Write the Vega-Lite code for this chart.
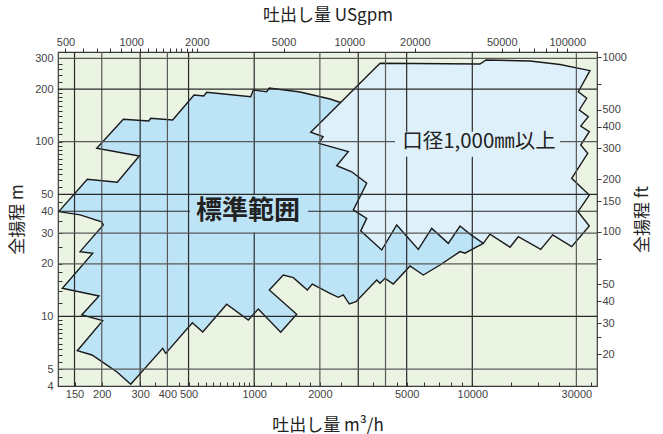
{
  "$schema": "https://vega.github.io/schema/vega-lite/v6.json",
  "width": 539,
  "height": 334,
  "autosize": {"type": "none"},
  "padding": {"left": 58, "top": 52, "right": 66, "bottom": 48},
  "background": "white",
  "config": {
    "view": {"fill": "#ebf3e2", "stroke": "#3a3a3a", "strokeWidth": 1.2},
    "axis": {"domain": false, "grid": false, "labelFont": "Liberation Sans", "labelFontSize": 11, "labelColor": "#444", "tickColor": "#333", "titleFont": "Noto Sans CJK JP", "titleFontSize": 17, "titleFontWeight": "normal", "titleColor": "#222", "labelOverlap": false, "labelFlush": false, "labelBound": false}
  },
  "datasets": {
    "standard": [
      {"i": 0, "q": 127, "h": 39.8}, {"i": 1, "q": 171.7, "h": 60.9}, {"i": 2, "q": 235.7, "h": 58.6}, {"i": 3, "q": 297.3, "h": 82.8},
      {"i": 4, "q": 189.6, "h": 91.7}, {"i": 5, "q": 251.1, "h": 134.4}, {"i": 6, "q": 328.3, "h": 131.4}, {"i": 7, "q": 335.3, "h": 136.1},
      {"i": 8, "q": 422.9, "h": 133.1}, {"i": 9, "q": 529.7, "h": 185.0}, {"i": 10, "q": 586.8, "h": 182.6}, {"i": 11, "q": 605.7, "h": 191.7},
      {"i": 12, "q": 963.8, "h": 180.9}, {"i": 13, "q": 990.6, "h": 197.6}, {"i": 14, "q": 1141, "h": 193.2}, {"i": 15, "q": 1173, "h": 202.9},
      {"i": 16, "q": 1622, "h": 192.4}, {"i": 17, "q": 2226, "h": 175.5}, {"i": 18, "q": 2608, "h": 164.3}, {"i": 19, "q": 5757, "h": 102.3},
      {"i": 20, "q": 10847, "h": 46.4}, {"i": 21, "q": 11230, "h": 26.2}, {"i": 22, "q": 9258, "h": 23.0}, {"i": 23, "q": 8783, "h": 23.5},
      {"i": 24, "q": 7109, "h": 19.7}, {"i": 25, "q": 5961, "h": 17.27}, {"i": 26, "q": 5180, "h": 19.44}, {"i": 27, "q": 4343, "h": 15.33},
      {"i": 28, "q": 3978, "h": 16.53}, {"i": 29, "q": 3774, "h": 15.48}, {"i": 30, "q": 3645, "h": 16.17}, {"i": 31, "q": 2929, "h": 12.15},
      {"i": 32, "q": 2729, "h": 11.78}, {"i": 33, "q": 2562, "h": 13.27}, {"i": 34, "q": 2430, "h": 12.87}, {"i": 35, "q": 2226, "h": 13.57},
      {"i": 36, "q": 1847, "h": 15.33}, {"i": 37, "q": 1752, "h": 14.17}, {"i": 38, "q": 1511, "h": 16.67}, {"i": 39, "q": 1359, "h": 17.27},
      {"i": 40, "q": 1173, "h": 14.17}, {"i": 41, "q": 1566, "h": 10.29}, {"i": 42, "q": 1323, "h": 8.12}, {"i": 43, "q": 1044, "h": 11.03},
      {"i": 44, "q": 939.5, "h": 9.54}, {"i": 45, "q": 747.9, "h": 11.74}, {"i": 46, "q": 580.6, "h": 8.15}, {"i": 47, "q": 520.3, "h": 9.21},
      {"i": 48, "q": 392.8, "h": 6.15}, {"i": 49, "q": 380.6, "h": 6.57}, {"i": 50, "q": 271.5, "h": 4.09}, {"i": 51, "q": 235.0, "h": 4.81},
      {"i": 52, "q": 203.3, "h": 5.44}, {"i": 53, "q": 180.4, "h": 6.02}, {"i": 54, "q": 154.5, "h": 6.37}, {"i": 55, "q": 202.0, "h": 9.46},
      {"i": 56, "q": 161.9, "h": 10.2}, {"i": 57, "q": 194.3, "h": 13.1}, {"i": 58, "q": 131.9, "h": 14.5}, {"i": 59, "q": 181.8, "h": 23.0},
      {"i": 60, "q": 159.0, "h": 23.5}, {"i": 61, "q": 203.3, "h": 33.4}, {"i": 62, "q": 199.8, "h": 34.8}, {"i": 63, "q": 159.0, "h": 38.1},
      {"i": 64, "q": 127, "h": 39.8}
    ],
    "large": [
      {"i": 0, "q": 3774, "h": 280.9}, {"i": 1, "q": 10847, "h": 278.3}, {"i": 2, "q": 11556, "h": 293.4}, {"i": 3, "q": 18390, "h": 289.6},
      {"i": 4, "q": 25240, "h": 276.5}, {"i": 5, "q": 34640, "h": 254.9}, {"i": 6, "q": 30620, "h": 193.2}, {"i": 7, "q": 33460, "h": 177.2},
      {"i": 8, "q": 30950, "h": 151.9}, {"i": 9, "q": 34030, "h": 139.0}, {"i": 10, "q": 31410, "h": 123.0}, {"i": 11, "q": 34390, "h": 114.1},
      {"i": 12, "q": 31410, "h": 95.7}, {"i": 13, "q": 33820, "h": 85.8}, {"i": 14, "q": 28560, "h": 61.7}, {"i": 15, "q": 34390, "h": 49.5},
      {"i": 16, "q": 30520, "h": 39.8}, {"i": 17, "q": 34390, "h": 32.9}, {"i": 18, "q": 28560, "h": 25.1}, {"i": 19, "q": 23370, "h": 29.3},
      {"i": 20, "q": 20590, "h": 24.2}, {"i": 21, "q": 16250, "h": 28.6}, {"i": 22, "q": 14890, "h": 24.9}, {"i": 23, "q": 12050, "h": 29.6},
      {"i": 24, "q": 11230, "h": 26.2}, {"i": 25, "q": 9759, "h": 29.6}, {"i": 26, "q": 8783, "h": 32.9}, {"i": 27, "q": 7761, "h": 26.2},
      {"i": 28, "q": 6513, "h": 31.9}, {"i": 29, "q": 5655, "h": 24.2}, {"i": 30, "q": 4502, "h": 33.4}, {"i": 31, "q": 3842, "h": 24.0},
      {"i": 32, "q": 3078, "h": 30.9}, {"i": 33, "q": 3280, "h": 36.4}, {"i": 34, "q": 2847, "h": 40.7}, {"i": 35, "q": 3280, "h": 57.8},
      {"i": 36, "q": 2799, "h": 67.3}, {"i": 37, "q": 2389, "h": 72.9}, {"i": 38, "q": 2701, "h": 87.7}, {"i": 39, "q": 1982, "h": 97.9},
      {"i": 40, "q": 2068, "h": 106.8}, {"i": 41, "q": 1816, "h": 113.2}, {"i": 42, "q": 3774, "h": 280.9}
    ],
    "vgridDark": [
      {"q": 150, "h1": 4, "h2": 326}, {"q": 300, "h1": 4, "h2": 326}, {"q": 500, "h1": 4, "h2": 326},
      {"q": 1000, "h1": 4, "h2": 30.2}, {"q": 1000, "h1": 49.5, "h2": 326}, {"q": 3000, "h1": 4, "h2": 326},
      {"q": 5000, "h1": 4, "h2": 82}, {"q": 5000, "h1": 114, "h2": 326}, {"q": 10000, "h1": 4, "h2": 82}, {"q": 10000, "h1": 114, "h2": 326}
    ],
    "vgridGray": [
      {"q": 200, "h1": 4, "h2": 326}, {"q": 400, "h1": 4, "h2": 326}, {"q": 2000, "h1": 4, "h2": 326},
      {"q": 4000, "h1": 4, "h2": 326}, {"q": 30000, "h1": 4, "h2": 326}
    ],
    "hgridDark": [
      {"h": 200, "q1": 126, "q2": 37300}, {"h": 50, "q1": 126, "q2": 37300}, {"h": 40, "q1": 126, "q2": 508},
      {"h": 40, "q1": 1765, "q2": 37300}, {"h": 10, "q1": 126, "q2": 37300}
    ],
    "hgridGray": [
      {"h": 300, "q1": 126, "q2": 37300}, {"h": 100, "q1": 126, "q2": 4422}, {"h": 100, "q1": 25240, "q2": 37300},
      {"h": 30, "q1": 126, "q2": 37300}, {"h": 20, "q1": 126, "q2": 37300}, {"h": 5, "q1": 126, "q2": 37300}
    ],
    "bigLabel": [{"q": 937, "h": 40, "t": "標準範囲"}],
    "sizeLabel": [{"q": 10732, "h": 100, "t": "口径1,000㎜以上"}],
    "gpmRange": [{"gpm": 500}, {"gpm": 100000}],
    "ftRange": [{"ft": 20}, {"ft": 1000}]
  },
  "layer": [
    {
      "data": {"name": "standard"},
      "mark": {"type": "line", "fill": "#bde3f7", "stroke": "#1a1a1a", "strokeWidth": 1.4},
      "encoding": {
        "x": {"field": "q", "type": "quantitative", "scale": {"type": "log", "domain": [126, 37300], "nice": false},
          "axis": {"orient": "bottom", "title": "吐出し量  m³/h", "format": "d", "tickSize": -4, "labelPadding": 6, "titlePadding": 18,
            "values": [150, 200, 300, 350, 400, 450, 500, 550, 600, 650, 700, 750, 800, 850, 900, 950, 1000, 1200, 1400, 1600, 1800, 2000, 2500, 3500, 4500, 5000, 6000, 7000, 8000, 9000, 10000, 15000, 20000, 25000, 30000, 35000],
            "labelExpr": "indexof([150,200,300,400,500,1000,2000,5000,10000,30000], datum.value) >= 0 ? format(datum.value, 'd') : ''"}},
        "y": {"field": "h", "type": "quantitative", "scale": {"type": "log", "domain": [4, 326], "nice": false},
          "axis": {"orient": "left", "title": "全揚程  m", "format": "d", "tickSize": -4, "labelPadding": 9, "titlePadding": 8,
            "values": [4, 4.5, 5, 5.5, 6, 6.5, 7, 7.5, 8, 8.5, 9, 9.5, 10, 12, 14, 16, 18, 20, 25, 30, 35, 40, 45, 50, 55, 60, 65, 70, 75, 80, 85, 90, 95, 100, 110, 120, 130, 140, 150, 160, 170, 180, 190, 200, 220, 240, 260, 280, 300],
            "labelExpr": "indexof([4,5,10,20,30,40,50,100,200,300], datum.value) >= 0 ? format(datum.value, 'd') : ''"}},
        "order": {"field": "i", "type": "quantitative"}
      }
    },
    {
      "data": {"name": "large"},
      "mark": {"type": "line", "fill": "#def0fa", "stroke": "#1a1a1a", "strokeWidth": 1.4},
      "encoding": {
        "x": {"field": "q", "type": "quantitative", "scale": {"type": "log", "domain": [126, 37300], "nice": false}, "axis": null},
        "y": {"field": "h", "type": "quantitative", "scale": {"type": "log", "domain": [4, 326], "nice": false}, "axis": null},
        "order": {"field": "i", "type": "quantitative"}
      }
    },
    {
      "data": {"name": "vgridDark"},
      "mark": {"type": "rule", "color": "#2a2a2a", "strokeWidth": 1.2},
      "encoding": {
        "x": {"field": "q", "type": "quantitative", "scale": {"type": "log", "domain": [126, 37300], "nice": false}, "axis": null},
        "y": {"field": "h1", "type": "quantitative", "scale": {"type": "log", "domain": [4, 326], "nice": false}, "axis": null},
        "y2": {"field": "h2"}
      }
    },
    {
      "data": {"name": "vgridGray"},
      "mark": {"type": "rule", "color": "#5a5a5a", "strokeWidth": 1.2},
      "encoding": {
        "x": {"field": "q", "type": "quantitative", "scale": {"type": "log", "domain": [126, 37300], "nice": false}, "axis": null},
        "y": {"field": "h1", "type": "quantitative", "scale": {"type": "log", "domain": [4, 326], "nice": false}, "axis": null},
        "y2": {"field": "h2"}
      }
    },
    {
      "data": {"name": "hgridDark"},
      "mark": {"type": "rule", "color": "#2a2a2a", "strokeWidth": 1.2},
      "encoding": {
        "y": {"field": "h", "type": "quantitative", "scale": {"type": "log", "domain": [4, 326], "nice": false}, "axis": null},
        "x": {"field": "q1", "type": "quantitative", "scale": {"type": "log", "domain": [126, 37300], "nice": false}, "axis": null},
        "x2": {"field": "q2"}
      }
    },
    {
      "data": {"name": "hgridGray"},
      "mark": {"type": "rule", "color": "#5a5a5a", "strokeWidth": 1.2},
      "encoding": {
        "y": {"field": "h", "type": "quantitative", "scale": {"type": "log", "domain": [4, 326], "nice": false}, "axis": null},
        "x": {"field": "q1", "type": "quantitative", "scale": {"type": "log", "domain": [126, 37300], "nice": false}, "axis": null},
        "x2": {"field": "q2"}
      }
    },
    {
      "data": {"name": "bigLabel"},
      "mark": {"type": "text", "font": "Noto Sans CJK JP", "fontSize": 26, "fontWeight": "bold", "color": "#222"},
      "encoding": {
        "x": {"field": "q", "type": "quantitative", "scale": {"type": "log", "domain": [126, 37300], "nice": false}, "axis": null},
        "y": {"field": "h", "type": "quantitative", "scale": {"type": "log", "domain": [4, 326], "nice": false}, "axis": null},
        "text": {"field": "t"}
      }
    },
    {
      "data": {"name": "sizeLabel"},
      "mark": {"type": "text", "font": "Noto Sans CJK JP", "fontSize": 20.5, "color": "#222"},
      "encoding": {
        "x": {"field": "q", "type": "quantitative", "scale": {"type": "log", "domain": [126, 37300], "nice": false}, "axis": null},
        "y": {"field": "h", "type": "quantitative", "scale": {"type": "log", "domain": [4, 326], "nice": false}, "axis": null},
        "text": {"field": "t"}
      }
    },
    {
      "data": {"name": "gpmRange"},
      "mark": {"type": "point", "opacity": 0},
      "encoding": {
        "x": {"field": "gpm", "type": "quantitative", "scale": {"type": "log", "domain": [462, 136740], "nice": false},
          "axis": {"orient": "top", "title": "吐出し量  USgpm", "format": "d", "tickSize": 4, "labelPadding": 1, "titlePadding": 12,
            "values": [500, 600, 700, 800, 900, 1000, 1100, 1200, 1300, 1400, 1500, 1600, 1700, 1800, 1900, 2000, 5000, 10000, 20000, 50000, 60000, 70000, 80000, 90000, 100000],
            "labelExpr": "indexof([500,1000,2000,5000,10000,20000,50000,100000], datum.value) >= 0 ? format(datum.value, 'd') : ''"}}
      }
    },
    {
      "data": {"name": "ftRange"},
      "mark": {"type": "point", "opacity": 0},
      "encoding": {
        "y": {"field": "ft", "type": "quantitative", "scale": {"type": "log", "domain": [13.12, 1069.5], "nice": false},
          "axis": {"orient": "right", "title": "全揚程  ft", "titleAngle": -90, "titleBaseline": "top", "format": "d", "tickSize": 4, "labelPadding": 1, "titlePadding": 8,
            "values": [20, 25, 30, 40, 50, 70, 100, 150, 200, 300, 400, 500, 700, 1000],
            "labelExpr": "indexof([20,30,40,50,100,150,200,300,400,500,1000], datum.value) >= 0 ? format(datum.value, 'd') : ''"}}
      }
    }
  ],
  "resolve": {"scale": {"x": "independent", "y": "independent"}}
}
